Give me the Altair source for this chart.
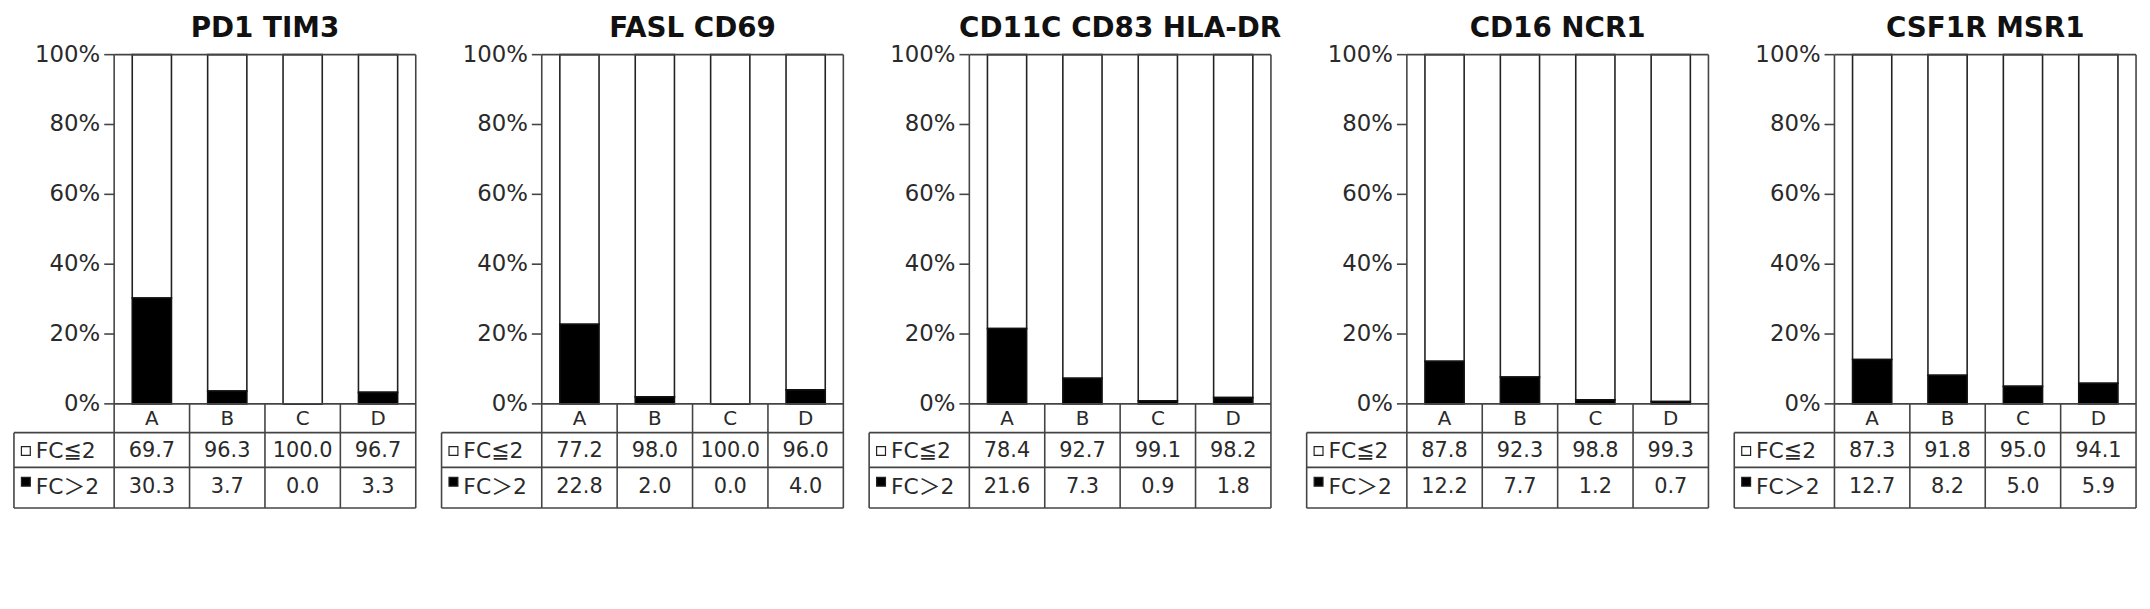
import altair as alt
import pandas as pd

# ---------------- data ----------------
titles = ["PD1 TIM3", "FASL CD69", "CD11C CD83 HLA-DR", "CD16 NCR1", "CSF1R MSR1"]
groups = ["A", "B", "C", "D"]
fc_le2 = [
    [69.7, 96.3, 100.0, 96.7],
    [77.2, 98.0, 100.0, 96.0],
    [78.4, 92.7, 99.1, 98.2],
    [87.8, 92.3, 98.8, 99.3],
    [87.3, 91.8, 95.0, 94.1],
]
fc_gt2 = [
    [30.3, 3.7, 0.0, 3.3],
    [22.8, 2.0, 0.0, 4.0],
    [21.6, 7.3, 0.9, 1.8],
    [12.2, 7.7, 1.2, 0.7],
    [12.7, 8.2, 5.0, 5.9],
]
row_labels = ["FC≦2", "FC＞2"]
y_ticks = [0, 20, 40, 60, 80, 100]

# ---------------- layout (pixels) ----------------
W = 405          # panel width
LABW = 101       # table label column width
SLOT = 76        # width of one category slot
H = 496          # panel height
PLOT_TOP = 39
PLOT_H = 352
CAT_H = 29
ROW2_H = 35
ROW3_H = 41
TITLE_BASE = 21
TICK_LEN = 10
GAP = 24
BAR_HALF = 0.26

LINE = "#444444"
TEXT = "#2a2a2a"
FONT = "DejaVu Sans"
FONT_CJK = "DejaVu Sans, Noto Sans CJK JP"


def xu(px):
    return px / SLOT


def yu(px):
    return 100 - (px - PLOT_TOP) * 100.0 / PLOT_H


XDOM = [-LABW / SLOT, 4]
YDOM = [yu(H), yu(0)]
xs = alt.Scale(domain=XDOM, nice=False, zero=False)
ys = alt.Scale(domain=YDOM, nice=False, zero=False)

PB = PLOT_TOP + PLOT_H
CB = PB + CAT_H
R2B = CB + ROW2_H
R3B = R2B + ROW3_H
y_cat, y_r2, y_r3 = yu(CB), yu(R2B), yu(R3B)
xl = XDOM[0]


def panel(k):
    # grid / frame lines
    segs = [
        (0, 4, 100, 100), (xl, 4, y_cat, y_cat), (xl, 4, y_r2, y_r2), (xl, 4, y_r3, y_r3),
        (0, 0, 100, y_r3), (4, 4, 100, y_r3), (1, 1, 0, y_r3), (2, 2, 0, y_r3), (3, 3, 0, y_r3),
        (xl, xl, y_cat, y_r3), (0, 4, 0, 0),
    ]
    for t in y_ticks:
        segs.append((-xu(TICK_LEN), 0, t, t))
    lines = pd.DataFrame(segs, columns=["x", "x2", "y", "y2"])
    rules = alt.Chart(lines).mark_rule(color=LINE, strokeWidth=1.6).encode(
        x=alt.X("x:Q", scale=xs, axis=None),
        x2="x2:Q",
        y=alt.Y("y:Q", scale=ys, axis=None),
        y2="y2:Q",
    )

    bars = pd.DataFrame({
        "idx": list(range(len(groups))),
        "grp": groups,
        "le2": fc_le2[k],
        "gt2": fc_gt2[k],
    })
    base = alt.Chart(bars).transform_calculate(
        xa=f"datum.idx + 0.5 - {BAR_HALF}",
        xb=f"datum.idx + 0.5 + {BAR_HALF}",
        top="datum.gt2 + datum.le2",
        cx="datum.idx + 0.5",
    )
    white = base.mark_rect(fill="white", stroke="#222222", strokeWidth=1.6).encode(
        x=alt.X("xa:Q", scale=xs, axis=None), x2="xb:Q",
        y=alt.Y("gt2:Q", scale=ys, axis=None), y2="top:Q",
    )
    black = base.mark_rect(fill="black", stroke="#111111", strokeWidth=1.6).encode(
        x=alt.X("xa:Q", scale=xs, axis=None), x2="xb:Q",
        y=alt.Y("zero:Q", scale=ys, axis=None), y2="gt2:Q",
    ).transform_calculate(zero="0")

    cat_txt = base.mark_text(font=FONT, fontSize=20, color=TEXT, baseline="middle").encode(
        x=alt.X("cx:Q", scale=xs, axis=None),
        y=alt.Y("yc:Q", scale=ys, axis=None),
        text="grp:N",
    ).transform_calculate(yc=f"{yu(PB + CAT_H / 2 + 1)}")
    le_txt = base.mark_text(font=FONT, fontSize=21, color=TEXT, baseline="middle").encode(
        x=alt.X("cx:Q", scale=xs, axis=None),
        y=alt.Y("yc:Q", scale=ys, axis=None),
        text=alt.Text("le2:Q", format=".1f"),
    ).transform_calculate(yc=f"{yu(CB + ROW2_H / 2 + 1)}")
    gt_txt = base.mark_text(font=FONT, fontSize=21, color=TEXT, baseline="middle").encode(
        x=alt.X("cx:Q", scale=xs, axis=None),
        y=alt.Y("yc:Q", scale=ys, axis=None),
        text=alt.Text("gt2:Q", format=".1f"),
    ).transform_calculate(yc=f"{yu(R2B + ROW3_H / 2 - 1)}")

    tk = pd.DataFrame({"t": y_ticks})
    tick_txt = alt.Chart(tk).mark_text(
        font=FONT, fontSize=23, color=TEXT, align="right", baseline="middle", dx=-14
    ).encode(
        x=alt.X("xz:Q", scale=xs, axis=None),
        y=alt.Y("t:Q", scale=ys, axis=None),
        text="lab:N",
    ).transform_calculate(lab="datum.t + '%'", xz="0")

    rl = pd.DataFrame({
        "lab": row_labels,
        "yc": [yu(CB + ROW2_H / 2 + 1), yu(R2B + ROW3_H / 2 - 1)],
        "sym": ["white", "black"],
        "sy": [yu(CB + ROW2_H / 2 + 1), yu(R2B + ROW3_H / 2 - 6)],
    })
    rl_txt = alt.Chart(rl).mark_text(
        font=FONT_CJK, fontSize=22, color=TEXT, align="left", baseline="middle"
    ).encode(
        x=alt.X("xt:Q", scale=xs, axis=None),
        y=alt.Y("yc:Q", scale=ys, axis=None),
        text="lab:N",
    ).transform_calculate(xt=f"{xl + xu(22)}")
    rl_sym = alt.Chart(rl).mark_point(shape="square", size=80, filled=True, stroke="#222222", strokeWidth=1.2, opacity=1).encode(
        x=alt.X("xt:Q", scale=xs, axis=None),
        y=alt.Y("sy:Q", scale=ys, axis=None),
        fill=alt.Fill("sym:N", scale=None),
    ).transform_calculate(xt=f"{xl + xu(12)}")

    ttl = pd.DataFrame({"title": [titles[k]]})
    title_txt = alt.Chart(ttl).mark_text(
        font=FONT, fontSize=28, fontWeight="bold", color="#111111", baseline="alphabetic"
    ).encode(
        x=alt.X("xc:Q", scale=xs, axis=None),
        y=alt.Y("yt:Q", scale=ys, axis=None),
        text="title:N",
    ).transform_calculate(xc="2", yt=f"{yu(TITLE_BASE)}")

    return alt.layer(
        white, black, rules, cat_txt, le_txt, gt_txt, tick_txt, rl_txt, rl_sym, title_txt
    ).properties(width=W, height=H)


chart = alt.hconcat(*[panel(k) for k in range(len(titles))], spacing=GAP).configure_view(
    stroke=None
).properties(background="white")

chart.save("out.html", embed_options={"renderer": "svg", "actions": False})
